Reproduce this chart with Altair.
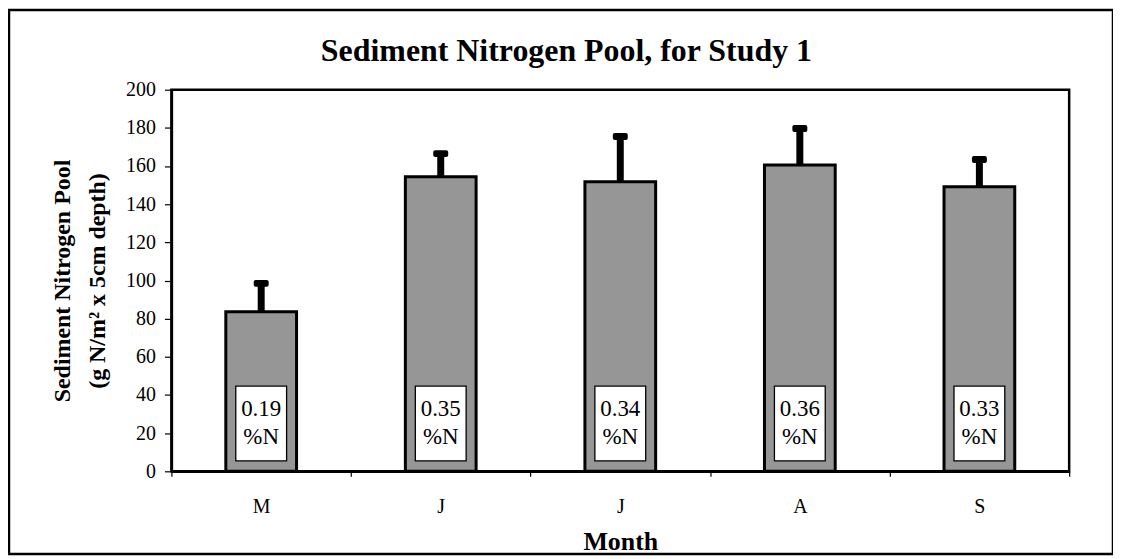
import altair as alt
import pandas as pd

# ---- data ----
keys = ["M", "J1", "J2", "A", "S"]
months = ["M", "J", "J", "A", "S"]
pool = [83.6, 154.4, 151.7, 160.5, 149.1]
err_top = [98.5, 166.5, 175.5, 179.7, 163.4]
pct_n = ["0.19", "0.35", "0.34", "0.36", "0.33"]
y_ticks = [0, 20, 40, 60, 80, 100, 120, 140, 160, 180, 200]
title_text = "Sediment Nitrogen Pool, for Study 1"

df = pd.DataFrame({"key": keys, "month": months, "pool": pool,
                   "err": err_top, "pct": pct_n, "unit": ["%N"] * 5})

FONT = "Liberation Serif"
W, H = 901, 383

x_axis = alt.Axis(title="Month", labelExpr="slice(datum.label, 0, 1)",
                  labelAngle=0, labelFont=FONT, labelFontSize=20, labelColor="black",
                  labelPadding=20, tickBand="extent", tickSize=5, tickColor="black",
                  tickWidth=1.2, domainColor="black", domainWidth=2.5,
                  titleFont=FONT, titleFontSize=26, titleFontWeight="bold",
                  titleColor="black", titlePadding=12)
x_scale = alt.Scale(paddingInner=0, paddingOuter=0)
y_scale = alt.Scale(domain=[0, 200], nice=False)
y_axis = alt.Axis(title=["Sediment Nitrogen Pool", "(g N/m² x 5cm depth)"],
                  values=y_ticks, grid=False, labelOverlap=False,
                  labelFont=FONT, labelFontSize=20, labelColor="black", labelPadding=9,
                  tickSize=7, tickColor="black", tickWidth=1.2,
                  domainColor="black", domainWidth=2.5,
                  titleFont=FONT, titleFontSize=24, titleFontWeight="bold",
                  titleColor="black", titleAngle=-90, titleAlign="center",
                  titleBaseline="middle", titleLineHeight=35,
                  titleX=-109, titleY=H / 2)

xk = alt.X("key:N", sort=keys, scale=x_scale, axis=x_axis)

base = alt.Chart(df)

bars = base.mark_bar(width=71, fill="#969696", stroke="black", strokeWidth=3).encode(
    x=xk, y=alt.Y("pool:Q", scale=y_scale, axis=y_axis))

stems = base.mark_rule(color="black", strokeWidth=7).encode(
    x=xk, y=alt.Y("pool:Q", scale=y_scale, axis=y_axis), y2="err:Q")

caps = base.mark_tick(color="black", thickness=7, size=15, cornerRadius=2, opacity=1).encode(
    x=xk, y=alt.Y("err:Q", scale=y_scale, axis=y_axis))

boxes = base.mark_bar(width=51, fill="white", stroke="black", strokeWidth=1.3).encode(
    x=xk, y=alt.datum(5.5, scale=y_scale, axis=y_axis), y2=alt.datum(44.7))

txt1 = base.mark_text(font=FONT, fontSize=23, color="black", baseline="alphabetic",
                      dy=-55.6).encode(x=xk, y=alt.datum(0, scale=y_scale, axis=y_axis),
                                       text="pct:N")
txt2 = base.mark_text(font=FONT, fontSize=23, color="black", baseline="alphabetic",
                      dy=-27.3).encode(x=xk, y=alt.datum(0, scale=y_scale, axis=y_axis),
                                       text="unit:N")

one = alt.Chart(pd.DataFrame({"t": [title_text]}))

title = one.mark_text(font=FONT, fontSize=32, fontWeight="bold", color="black",
                      align="left", baseline="alphabetic").encode(
    x=alt.value(150), y=alt.value(-29), text="t:N")

frame = one.mark_rect(fill=None, stroke="black", strokeWidth=2.5).encode(
    x=alt.value(-163), x2=alt.value(945), y=alt.value(-80), y2=alt.value(466))

chart = alt.layer(bars, stems, caps, boxes, txt1, txt2, title, frame).properties(
    width=W, height=H,
    autosize="none",
    padding={"left": 164, "top": 81, "right": 44, "bottom": 85},
).configure(
    background="white",
    view=alt.ViewConfig(stroke="black", strokeWidth=2.5),
    axisY=alt.AxisConfig(labelOverlap=False),
)

chart.save("out.html", embed_options={"renderer": "svg", "actions": False})
